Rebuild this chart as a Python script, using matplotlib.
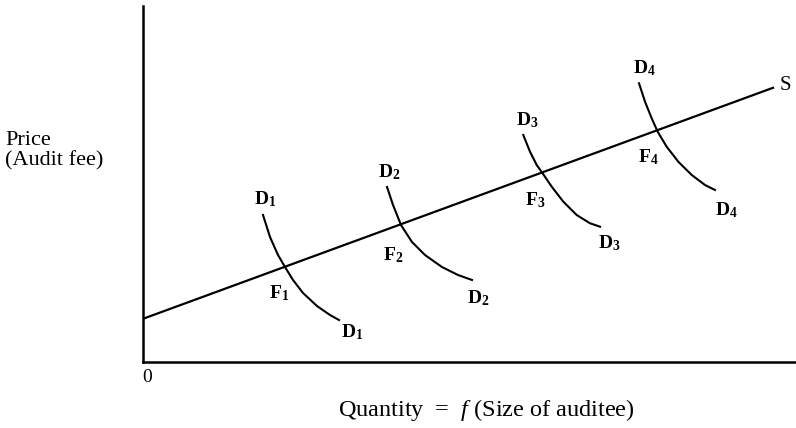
import matplotlib
matplotlib.use('Agg')
import matplotlib.pyplot as plt

plt.rcParams['font.family'] = ['Liberation Serif', 'DejaVu Serif']
plt.rcParams['mathtext.fontset'] = 'custom'
plt.rcParams['mathtext.rm'] = 'Liberation Serif'
plt.rcParams['mathtext.it'] = 'Liberation Serif:italic'
plt.rcParams['mathtext.bf'] = 'Liberation Serif:bold'

# supply curve S (quantity, price)
supply_q = [0.0, 10.5]
supply_p = [0.72, 4.57]

# demand curves D1..D4
d1_q = [2.0, 2.117, 2.25, 2.367, 2.5, 2.667, 2.9, 3.117, 3.267]
d1_p = [2.45, 2.083, 1.783, 1.583, 1.367, 1.15, 0.933, 0.783, 0.7]
d2_q = [4.067, 4.167, 4.3, 4.483, 4.7, 4.983, 5.25, 5.483]
d2_p = [2.917, 2.617, 2.283, 2.0, 1.783, 1.583, 1.45, 1.367]
d3_q = [6.338, 6.45, 6.562, 6.672, 6.812, 7.005, 7.228, 7.45, 7.617]
d3_p = [3.783, 3.505, 3.283, 3.128, 2.922, 2.672, 2.45, 2.312, 2.255]
d4_q = [8.267, 8.367, 8.478, 8.578, 8.728, 8.922, 9.145, 9.367, 9.533]
d4_p = [4.645, 4.338, 4.062, 3.838, 3.588, 3.338, 3.117, 2.95, 2.867]

# labels: (text, q, p)
labels = [
    (r'$\mathbf{D_1}$', 2.03, 2.72), (r'$\mathbf{F_1}$', 2.27, 1.15), (r'$\mathbf{D_1}$', 3.48, 0.5),
    (r'$\mathbf{D_2}$', 4.1, 3.17), (r'$\mathbf{F_2}$', 4.17, 1.78), (r'$\mathbf{D_2}$', 5.58, 1.07),
    (r'$\mathbf{D_3}$', 6.4, 4.03), (r'$\mathbf{F_3}$', 6.53, 2.7), (r'$\mathbf{D_3}$', 7.78, 1.98),
    (r'$\mathbf{D_4}$', 8.35, 4.9), (r'$\mathbf{F_4}$', 8.42, 3.42), (r'$\mathbf{D_4}$', 9.72, 2.53),
]

fig = plt.figure(figsize=(7.96, 4.28), dpi=100)
ax = fig.add_axes([143 / 796, 66 / 428, 653 / 796, 356 / 428])
ax.set_xlim(0, 653 / 60)
ax.set_ylim(0, 356 / 60)

ax.plot(supply_q, supply_p, color='black', lw=1.6)
for q, p in [(d1_q, d1_p), (d2_q, d2_p), (d3_q, d3_p), (d4_q, d4_p)]:
    ax.plot(q, p, color='black', lw=1.5)

for txt, q, p in labels:
    ax.text(q, p, txt, fontsize=14, ha='center', va='center')
ax.text(10.7, 4.6, 'S', fontsize=15, ha='center', va='center')

ax.spines['top'].set_visible(False)
ax.spines['right'].set_visible(False)
ax.spines['left'].set_linewidth(1.8)
ax.spines['bottom'].set_linewidth(1.8)
ax.set_xticks([])
ax.set_yticks([])

fig.text(5 / 796, 1 - 151 / 428, 'Price\n(Audit fee)', fontsize=16, ha='left', va='center',
         linespacing=1.05)
fig.text(147 / 796, 1 - 378 / 428, '0', fontsize=14, ha='center', va='center')
fig.text(486 / 796, 1 - 410 / 428, r'Quantity  =  $\it{f}$ (Size of auditee)', fontsize=17.5,
         ha='center', va='center')

plt.savefig('out.png', dpi=100)
plt.close()
